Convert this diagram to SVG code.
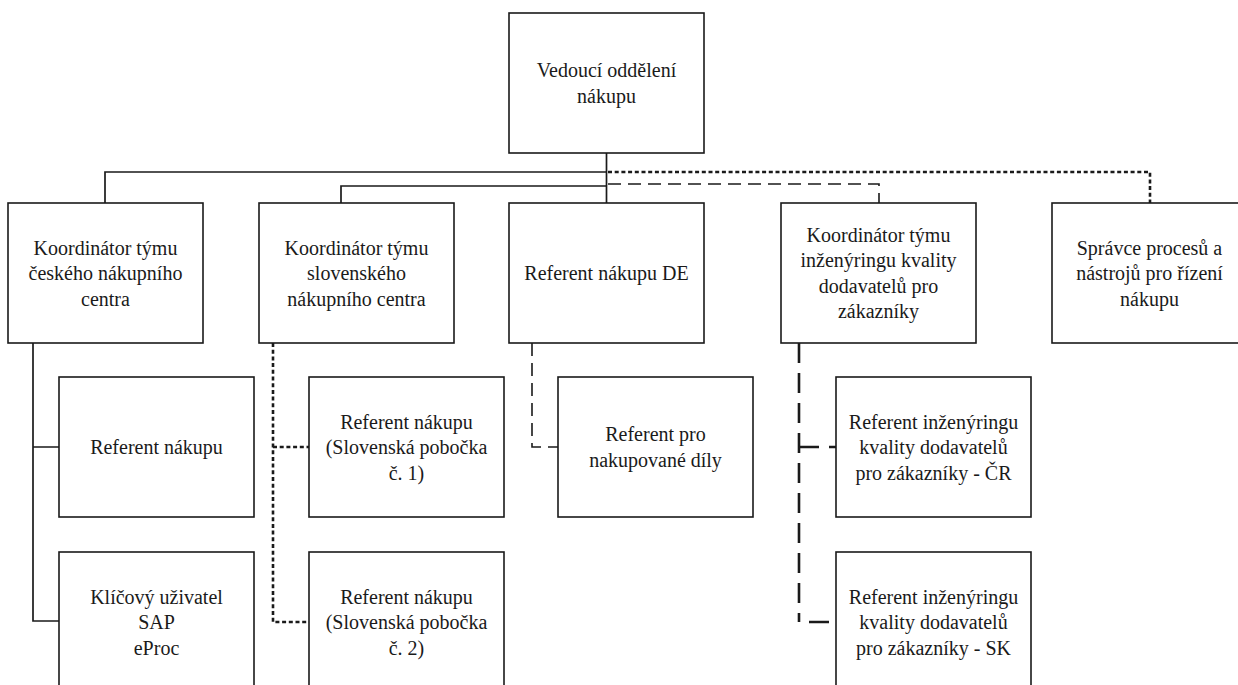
<svg xmlns="http://www.w3.org/2000/svg" width="1238" height="685" viewBox="0 0 1238 685">
<style>
.box{fill:#fff;stroke:#1a1a1a;stroke-width:1.6}
.t{font-family:"Liberation Serif","Tinos","Times New Roman","Nimbus Roman","DejaVu Serif",serif;font-size:20px;fill:#1a1a1a;text-anchor:middle}
.solid{fill:none;stroke:#1a1a1a;stroke-width:1.7}
.dot{fill:none;stroke:#1a1a1a;stroke-width:2.6;stroke-dasharray:4 2.7}
.dash{fill:none;stroke:#1a1a1a;stroke-width:1.6;stroke-dasharray:13 7}
.ldash{fill:none;stroke:#1a1a1a;stroke-width:2.6;stroke-dasharray:20 10}
</style>
<rect width="1238" height="685" fill="#fff"/>
<g id="connectors">
<path class="solid" d="M606.5 153V203"/>
<path class="solid" d="M606.5 172H105V203"/>
<path class="solid" d="M606.5 186H341V203"/>
<path class="dot" d="M608 172H1150V203"/>
<path class="dash" d="M608 184H879V203"/>
<path class="solid" d="M33 343V621H59M33 447H59"/>
<path class="dot" d="M273 343V622H309M273 447H309"/>
<path class="dash" d="M532 343V447H558"/>
<path class="ldash" d="M799 343V622"/>
<path class="ldash" d="M799 447H836M809 622H836"/>
</g>
<g id="n0"><rect class="box" x="509" y="13" width="195" height="140"/><text class="t" font-family="Liberation Serif, serif" x="606.5" y="77.25">Vedoucí oddělení<tspan x="606.5" dy="25.5">nákupu</tspan></text></g>
<g id="n1"><rect class="box" x="8" y="203" width="195" height="140"/><text class="t" x="105.5" y="254.5">Koordinátor týmu<tspan x="105.5" dy="25.5">českého nákupního</tspan><tspan x="105.5" dy="25.5">centra</tspan></text></g>
<g id="n2"><rect class="box" x="259" y="203" width="195" height="140"/><text class="t" x="356.5" y="254.5">Koordinátor týmu<tspan x="356.5" dy="25.5">slovenského</tspan><tspan x="356.5" dy="25.5">nákupního centra</tspan></text></g>
<g id="n3"><rect class="box" x="509" y="203" width="195" height="140"/><text class="t" x="606.5" y="280">Referent nákupu DE</text></g>
<g id="n4"><rect class="box" x="781" y="203" width="195" height="140"/><text class="t" x="878.5" y="241.75">Koordinátor týmu<tspan x="878.5" dy="25.5">inženýringu kvality</tspan><tspan x="878.5" dy="25.5">dodavatelů pro</tspan><tspan x="878.5" dy="25.5">zákazníky</tspan></text></g>
<g id="n5"><rect class="box" x="1052" y="203" width="195" height="140"/><text class="t" x="1149.5" y="254.5">Správce procesů a<tspan x="1149.5" dy="25.5">nástrojů pro řízení</tspan><tspan x="1149.5" dy="25.5">nákupu</tspan></text></g>
<g id="c1"><rect class="box" x="59" y="377" width="195" height="140"/><text class="t" x="156.5" y="454">Referent nákupu</text></g>
<g id="s1"><rect class="box" x="309" y="377" width="195" height="140"/><text class="t" x="406.5" y="428.5">Referent nákupu<tspan x="406.5" dy="25.5">(Slovenská pobočka</tspan><tspan x="406.5" dy="25.5">č. 1)</tspan></text></g>
<g id="d1"><rect class="box" x="558" y="377" width="195" height="140"/><text class="t" x="655.5" y="441.25">Referent pro<tspan x="655.5" dy="25.5">nakupované díly</tspan></text></g>
<g id="q1"><rect class="box" x="836" y="377" width="195" height="140"/><text class="t" x="933.5" y="428.5">Referent inženýringu<tspan x="933.5" dy="25.5">kvality dodavatelů</tspan><tspan x="933.5" dy="25.5">pro zákazníky - ČR</tspan></text></g>
<g id="c2"><rect class="box" x="59" y="552" width="195" height="140"/><text class="t" x="156.5" y="603.5">Klíčový uživatel<tspan x="156.5" dy="25.5">SAP</tspan><tspan x="156.5" dy="25.5">eProc</tspan></text></g>
<g id="s2"><rect class="box" x="309" y="552" width="195" height="140"/><text class="t" x="406.5" y="603.5">Referent nákupu<tspan x="406.5" dy="25.5">(Slovenská pobočka</tspan><tspan x="406.5" dy="25.5">č. 2)</tspan></text></g>
<g id="q2"><rect class="box" x="836" y="552" width="195" height="140"/><text class="t" x="933.5" y="603.5">Referent inženýringu<tspan x="933.5" dy="25.5">kvality dodavatelů</tspan><tspan x="933.5" dy="25.5">pro zákazníky - SK</tspan></text></g>
</svg>
